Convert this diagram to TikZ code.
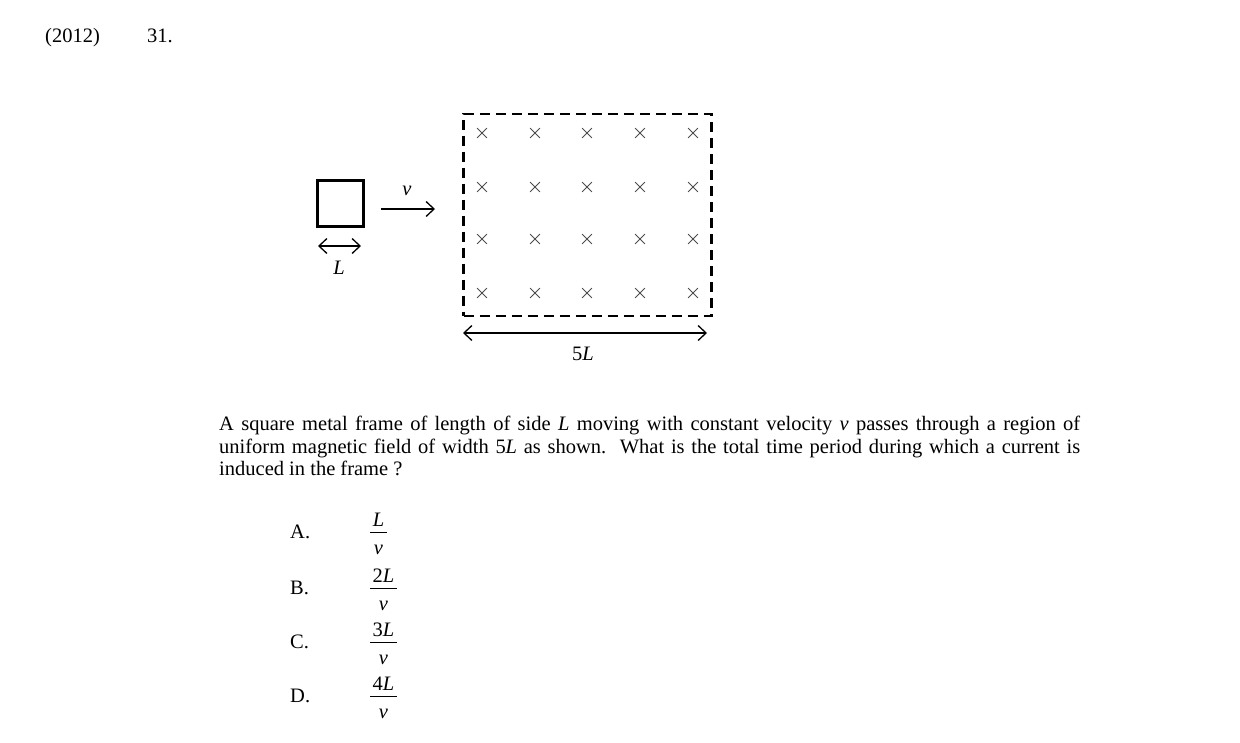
\documentclass[tikz,border=0pt]{standalone}
\usepackage{fontspec}
\setmainfont{Liberation Serif}
\usetikzlibrary{arrows.meta,shapes.misc}
\begin{document}
\begin{tikzpicture}[x=1pt,y=-1pt,
  txt/.style={font=\fontsize{20.5}{24}\selectfont, inner sep=0pt},
  fieldx/.style={draw=black!70, cross out, minimum size=9pt, inner sep=0pt, line width=0.8pt},
  tip/.tip={Straight Barb[length=8pt,width=15pt]},
  barb/.style={line width=1.3pt, tip-tip},
  onebarb/.style={line width=1.3pt, -tip},
  region/.style={draw, line width=2.2pt, dash pattern=on 10pt off 6pt},
  frame/.style={draw, line width=3pt, minimum size=46pt, inner sep=0pt},
  fbar/.style={line width=0.9pt}
]
\useasboundingbox (0,0) rectangle (1240,743);
% heading
\node[txt, anchor=base west] (yr) at (45,43) {(2012)};
\node[txt, anchor=base west] (qn) at (147,43) {31.};
% square frame
\node[frame] (sq) at (340.5,203.5) {};
\coordinate (la) at (318,246);
\coordinate (lb) at (361,246);
\draw[barb] (la) -- (lb);
\node[txt, anchor=base] (lL) at (339,275) {\textit{L}};
% velocity
\coordinate (va) at (381,209);
\coordinate (vb) at (435,209);
\draw[onebarb] (va) -- (vb);
\node[txt, anchor=base] (vl) at (407,196) {\textit{v}};
% field region
\node[region, minimum width=248pt, minimum height=202pt, inner sep=0pt] (fr) at (587.5,215) {};
\foreach \c [count=\i] in {482,535,587,640,693}{
  \foreach \r [count=\j] in {133,187,239,293}{
    \node[fieldx] (x\i\j) at (\c,\r) {};
  }
}
\coordinate (wa) at (463,333);
\coordinate (wb) at (707,333);
\draw[barb] (wa) -- (wb);
\node[txt, anchor=base] (w5) at (583,360) {5\textit{L}};
% question text
\node[txt, anchor=base west] (t1) at (219,430) {\hbox to 861pt{A square metal frame of length of side \textit{L} moving with constant velocity \textit{v} passes through a region of}};
\node[txt, anchor=base west] (t2) at (219,453) {\hbox to 861pt{uniform magnetic field of width 5\textit{L} as shown.\ \ What is the total time period during which a current is}};
\node[txt, anchor=base west] (t3) at (219,475) {induced in the frame ?};
% options
\foreach \lab/\num/\yy/\w [count=\k] in {A./\textit{L}/532/17, B./2\textit{L}/588/27, C./3\textit{L}/642/27, D./4\textit{L}/696/27}{
  \node[txt, anchor=base west] (opt\k) at (290,\yy+6) {\lab};
  \coordinate (bl\k) at (370,\yy);
  \coordinate (br\k) at (370+\w,\yy);
  \draw[fbar] (bl\k) -- (br\k);
  \node[txt, anchor=base] (num\k) at (370+\w/2,\yy-6) {\num};
  \node[txt, anchor=base] (den\k) at (370+\w/2,\yy+22) {\textit{v}};
}
\end{tikzpicture}
\end{document}
